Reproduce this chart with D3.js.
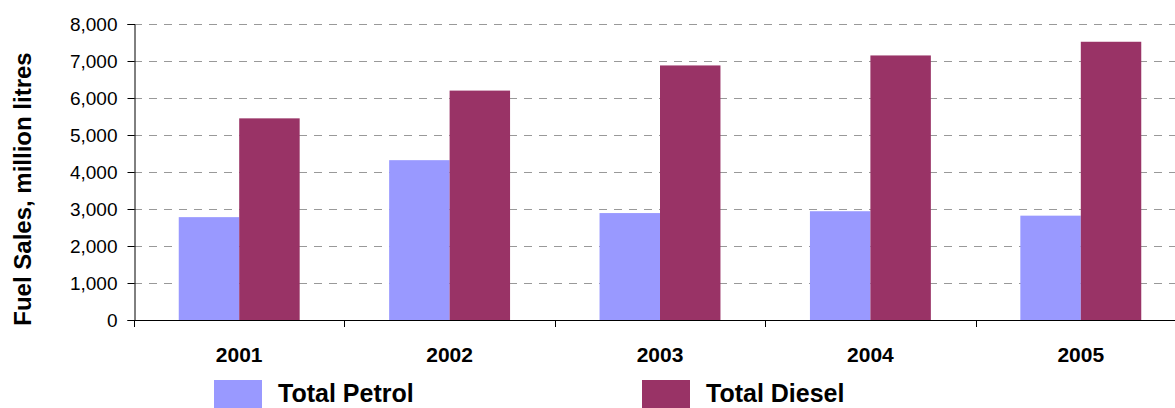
<!DOCTYPE html>
<html>
<head>
<meta charset="utf-8">
<script src="https://cdn.jsdelivr.net/npm/d3@7"></script>
<style>
  html, body { margin: 0; padding: 0; background: #fff; }
  svg { display: block; font-family: "Liberation Sans", Arial, sans-serif; }
</style>
</head>
<body>
<svg id="chart" width="1175" height="408"></svg>
<script>
// Annual fuel sales (million litres)
const years = ["2001", "2002", "2003", "2004", "2005"];
const petrol = [2780, 4320, 2890, 2940, 2820];
const diesel = [5450, 6200, 6880, 7150, 7520];
const seriesNames = ["Total Petrol", "Total Diesel"];
const seriesColors = ["#9999FF", "#993366"];
const yTicks = [0, 1000, 2000, 3000, 4000, 5000, 6000, 7000, 8000];

const svg = d3.select("#chart");
const W = 1175;
const plot = { left: 134, right: 1186, top: 24, bottom: 320 };

const x = d3.scaleBand().domain(years).range([plot.left, plot.right]).padding(0);
const xs = d3.scaleBand().domain(seriesNames).range([0, x.bandwidth()])
  .paddingInner(0).paddingOuter(0.74);
const y = d3.scaleLinear().domain([0, 8000]).range([plot.bottom, plot.top]);

// dashed horizontal grid
svg.append("g")
  .selectAll("line")
  .data(yTicks.filter(d => d > 0))
  .join("line")
  .attr("x1", plot.left).attr("x2", W)
  .attr("y1", d => Math.round(y(d)) + 0.5).attr("y2", d => Math.round(y(d)) + 0.5)
  .attr("stroke", "#999").attr("stroke-width", 1)
  .attr("stroke-dasharray", "8,7");

// bars
const rows = years.map((yr, i) => ({ year: yr, values: [petrol[i], diesel[i]] }));
svg.append("g")
  .selectAll("g")
  .data(rows)
  .join("g")
  .attr("transform", d => `translate(${x(d.year)},0)`)
  .selectAll("rect")
  .data(d => d.values.map((v, j) => ({ name: seriesNames[j], value: v, color: seriesColors[j] })))
  .join("rect")
  .attr("x", d => xs(d.name))
  .attr("width", xs.bandwidth())
  .attr("y", d => y(d.value))
  .attr("height", d => y(0) - y(d.value))
  .attr("fill", d => d.color);

// y axis
const yAxis = svg.append("g")
  .attr("transform", `translate(${plot.left + 0.5},0)`)
  .call(d3.axisLeft(y).tickValues(yTicks).tickFormat(d3.format(",")).tickSize(7).tickPadding(10));
yAxis.select(".domain").attr("stroke", "#000");
yAxis.selectAll(".tick line").attr("stroke", "#000");
yAxis.selectAll("text").attr("font-size", 19).attr("fill", "#000")
  .attr("font-family", "'Liberation Sans', Arial, sans-serif");

// x axis line and category boundary ticks
svg.append("line")
  .attr("x1", plot.left).attr("x2", W)
  .attr("y1", plot.bottom + 0.5).attr("y2", plot.bottom + 0.5)
  .attr("stroke", "#000");
svg.append("g")
  .selectAll("line")
  .data(years)
  .join("line")
  .attr("x1", d => Math.round(x(d)) + 0.5).attr("x2", d => Math.round(x(d)) + 0.5)
  .attr("y1", plot.bottom).attr("y2", plot.bottom + 7)
  .attr("stroke", "#000");

// category labels
svg.append("g")
  .selectAll("text")
  .data(years)
  .join("text")
  .attr("x", d => x(d) + x.bandwidth() / 2)
  .attr("y", 362)
  .attr("text-anchor", "middle")
  .attr("font-size", 21).attr("font-weight", "bold")
  .text(d => d);

// y axis title
svg.append("text")
  .attr("transform", "translate(31,189) rotate(-90)")
  .attr("text-anchor", "middle")
  .attr("font-size", 24).attr("font-weight", "bold")
  .text("Fuel Sales, million litres");

// legend
const legendX = [214, 642];
const legend = svg.append("g")
  .selectAll("g")
  .data(seriesNames)
  .join("g")
  .attr("transform", (d, i) => `translate(${legendX[i]},380)`);
legend.append("rect")
  .attr("width", 48).attr("height", 30)
  .attr("fill", (d, i) => seriesColors[i]);
legend.append("text")
  .attr("x", 64).attr("y", 22)
  .attr("font-size", 25).attr("font-weight", "bold")
  .text(d => d);
</script>
</body>
</html>
